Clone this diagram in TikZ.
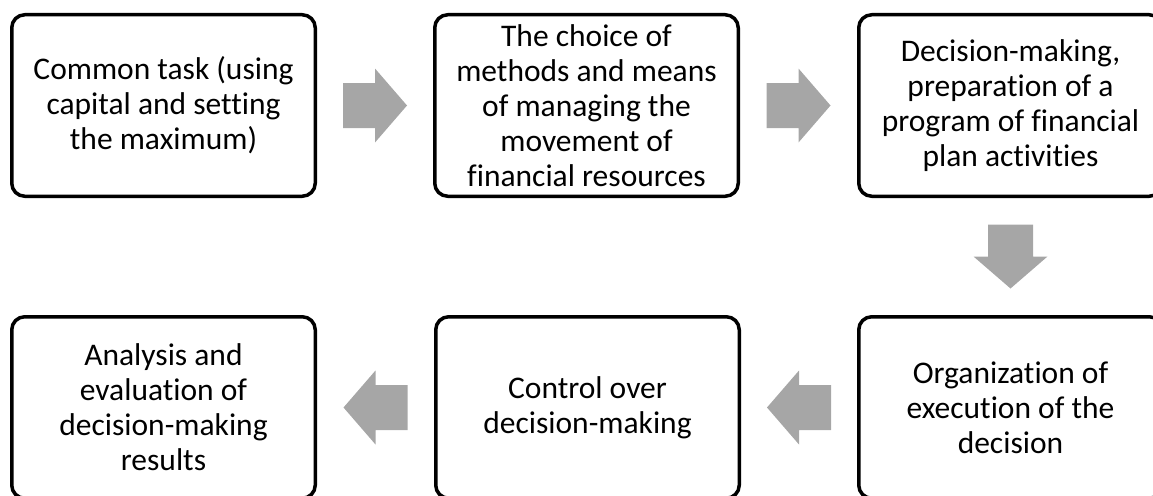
\documentclass[tikz,border=0pt]{standalone}
\usepackage{fontspec}
\setmainfont{Carlito}[Ligatures=NoCommon]
\usetikzlibrary{calc}
\definecolor{arrowgray}{RGB}{166,166,166}
\begin{document}
\begin{tikzpicture}[x=1pt,y=-1pt,
  box/.style={draw=black, line width=3.5pt, rounded corners=13pt, fill=white,
    minimum width=303.5pt, minimum height=181.5pt, align=center, inner sep=0pt,
    font=\fontsize{31.5}{35}\selectfont},
  blockarrow/.pic={\fill[arrowgray] (-32,-22.5) -- (0,-22.5) -- (0,-37) -- (32,0)
    -- (0,37) -- (0,22.5) -- (-32,22.5) -- cycle;}
]
\useasboundingbox (0,0) rectangle (1153,495);
\clip (0,0) rectangle (1153,495);
\node[box] (b1) at (163.5,105.5) {Common task (using\\capital and setting\\the maximum)};
\node[box] (b2) at (586.5,105.5) {The choice of\\methods and means\\of managing the\\movement of\\financial resources};
\node[box] (b3) at (1010.5,105.5) {Decision-making,\\preparation of a\\program of financial\\plan activities};
\node[box] (b4) at (1010.5,407.5) {Organization of\\execution of the\\decision};
\node[box] (b5) at (587.5,407.5) {Control over\\decision-making};
\node[box] (b6) at (163.5,407.5) {Analysis and\\evaluation of\\decision-making\\results};
\pic at ($(b1.east)!0.5!(b2.west)$) {blockarrow};
\pic at ($(b2.east)!0.5!(b3.west)$) {blockarrow};
\pic[rotate=-90] at ($(b3.south)!0.5!(b4.north)$) {blockarrow};
\pic[rotate=180] at ($(b4.west)!0.5!(b5.east)$) {blockarrow};
\pic[rotate=180] at ($(b5.west)!0.5!(b6.east)$) {blockarrow};
\end{tikzpicture}
\end{document}
